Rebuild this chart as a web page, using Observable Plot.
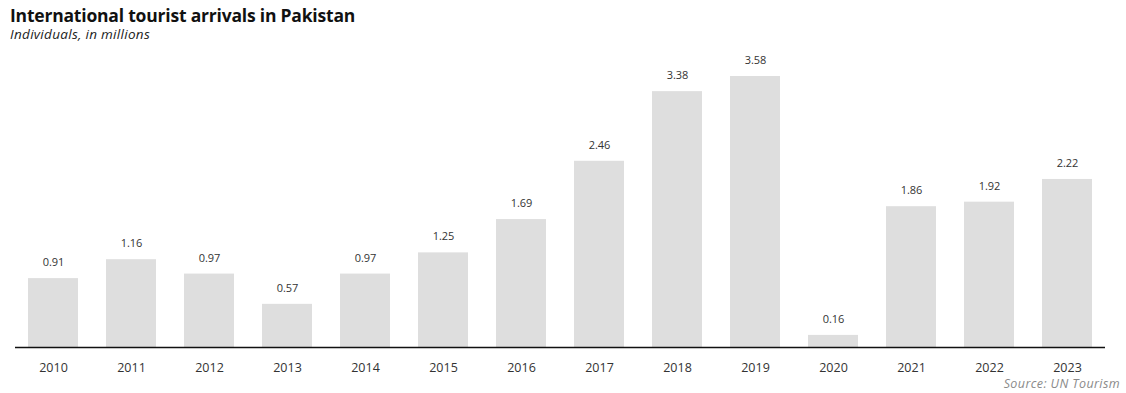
<!DOCTYPE html>
<html>
<head>
<meta charset="utf-8">
<script src="https://cdn.jsdelivr.net/npm/d3@7"></script>
<script src="https://cdn.jsdelivr.net/npm/@observablehq/plot@0.6"></script>
<style>
  body { margin: 0; background: #fff; font-family: "Open Sans", sans-serif; }
  #wrap { position: relative; width: 1126px; height: 393px; overflow: hidden; }
  #title { position: absolute; left: 10px; top: 3px; font-size: 17.5px; font-weight: 700; color: #111; letter-spacing: -0.2px; }
  #subtitle { position: absolute; left: 10px; top: 25px; font-size: 13.5px; font-style: italic; color: #222; letter-spacing: 0.3px; }
  #chart { position: absolute; left: 0; top: 44px; }
  #source { position: absolute; right: 6px; top: 378px; line-height: 1; font-size: 12.5px; font-style: italic; color: #8a8a8a; letter-spacing: 0.4px; }
</style>
</head>
<body>
<div id="wrap">
  <div id="title">International tourist arrivals in Pakistan</div>
  <div id="subtitle">Individuals, in millions</div>
  <div id="chart"></div>
  <div id="source">Source: UN Tourism</div>
</div>
<script>
const years = ["2010","2011","2012","2013","2014","2015","2016","2017","2018","2019","2020","2021","2022","2023"];
const arrivals = [0.91, 1.16, 0.97, 0.57, 0.97, 1.25, 1.69, 2.46, 3.38, 3.58, 0.16, 1.86, 1.92, 2.22];
const labels = ["0.91","1.16","0.97","0.57","0.97","1.25","1.69","2.46","3.38","3.58","0.16","1.86","1.92","2.22"];

const data = years.map((y, i) => ({year: y, value: arrivals[i], label: labels[i]}));

const chart = Plot.plot({
  width: 1126,
  height: 349,
  marginLeft: 15,
  marginRight: 21,
  marginTop: 32,
  marginBottom: 46,
  style: { fontFamily: "Open Sans, sans-serif", background: "transparent" },
  x: { domain: years, paddingInner: 0.36, paddingOuter: 0.16, label: null, tickSize: 0, tickPadding: 16 },
  y: { domain: [0, 3.58], axis: null },
  marks: [
    Plot.barY(data, { x: "year", y: "value", fill: "#dedede" }),
    Plot.ruleY([0], { stroke: "#111", strokeWidth: 1.5 }),
    Plot.text(data, { x: "year", y: "value", text: "label", dy: -16, fontSize: 11, fill: "#333" }),
    Plot.axisX({ tickSize: 0, tickPadding: 16, fontSize: 12.5, color: "#333", label: null })
  ]
});
document.getElementById("chart").appendChild(chart);
</script>
</body>
</html>
